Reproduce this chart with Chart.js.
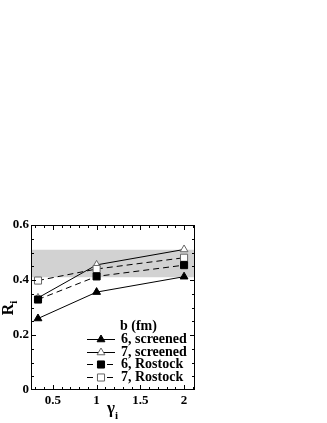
<!DOCTYPE html>
<html>
<head>
<meta charset="utf-8">
<script src="https://cdn.jsdelivr.net/npm/chart.js@4/dist/chart.umd.min.js"></script>
<style>
  html, body { margin: 0; padding: 0; background: #fff; }
</style>
</head>
<body>
<canvas id="ratioChart" width="327" height="423"></canvas>
<script>
// Values
var gammaValues   = [0.33, 1, 2];
var screened6     = [0.26, 0.356, 0.412];
var screened7     = [0.335, 0.455, 0.511];
var rostock6      = [0.329, 0.413, 0.454];
var rostock7      = [0.398, 0.44, 0.481];
var bandRange     = [0.41, 0.51];
var xRange        = [0.25, 2.125];
var yRange        = [0, 0.6];
var xTickValues   = [0.5, 1, 1.5, 2];
var yTickValues   = [0, 0.2, 0.4, 0.6];
var legendTitle   = "b (fm)";
var seriesLabels  = ["6, screened", "7, screened", "6, Rostock", "7, Rostock"];

var serif = "\"Liberation Serif\", \"Times New Roman\", serif";

function toPoints(values)
{
    return gammaValues.map(function (g, i) { return {x: g, y: values[i]}; });
}

function series(label, values, style, filled, dashed, order)
{
    return {
        label:                label,
        data:                 toPoints(values),
        borderColor:          "#000",
        borderWidth:          1,
        borderDash:           dashed ? [6, 4] : [],
        pointStyle:           style,
        pointRadius:          style === "triangle" ? 4.5 : 5,
        pointBorderWidth:     1,
        pointBorderColor:     filled ? "#000" : "#666",
        pointBackgroundColor: filled ? "#000" : "#fff",
        fill:                 false,
        tension:              0,
        order:                order
    };
}

var datasets = [
    series(seriesLabels[0], screened6, "triangle", true, false, 1),
    series(seriesLabels[1], screened7, "triangle", false, false, 4),
    series(seriesLabels[2], rostock6, "rect", true, true, 2),
    series(seriesLabels[3], rostock7, "rect", false, true, 3),
    {
        label: "bandTop",
        data: [{x: xRange[0], y: bandRange[1]}, {x: xRange[1], y: bandRange[1]}],
        borderWidth: 0, pointRadius: 0, fill: "+1",
        backgroundColor: "#d2d2d2", order: 10
    },
    {
        label: "bandBottom",
        data: [{x: xRange[0], y: bandRange[0]}, {x: xRange[1], y: bandRange[0]}],
        borderWidth: 0, pointRadius: 0, fill: false, order: 10
    }
];

// Frame with inward ticks on all four sides
var frameTicks = {
    id: "frameTicks",
    afterDraw: function (chart)
    {
        var ctx = chart.ctx, a = chart.chartArea;
        var xs = chart.scales.x, ys = chart.scales.y;
        ctx.save();
        ctx.strokeStyle = "#000";
        ctx.lineWidth = 1;
        ctx.strokeRect(Math.round(a.left) + 0.5, Math.round(a.top) + 0.5,
            Math.round(a.right - a.left) - 1, Math.round(a.bottom - a.top) - 1);
        ctx.beginPath();
        var v, px, len;
        for (var i = 3; i <= 21; i++)
        {
            v = i / 10;
            px = Math.round(xs.getPixelForValue(v)) + 0.5;
            len = (i % 5 === 0) ? 5 : 3;
            ctx.moveTo(px, a.bottom); ctx.lineTo(px, a.bottom - len);
            ctx.moveTo(px, a.top); ctx.lineTo(px, a.top + len);
        }
        for (var j = 1; j <= 11; j++)
        {
            v = j * 0.05;
            px = Math.round(ys.getPixelForValue(v)) + 0.5;
            len = (j % 4 === 0) ? 5 : 3;
            ctx.moveTo(a.left, px); ctx.lineTo(a.left + len, px);
            ctx.moveTo(a.right, px); ctx.lineTo(a.right - len, px);
        }
        ctx.stroke();

        // axis titles with subscripts
        ctx.fillStyle = "#000";
        ctx.textBaseline = "alphabetic";
        ctx.save();
        ctx.translate(13, (a.top + a.bottom) / 2);
        ctx.rotate(-Math.PI / 2);
        ctx.font = "bold 16px " + serif;
        ctx.textAlign = "left";
        var rw = ctx.measureText("R").width;
        ctx.fillText("R", -rw / 2 - 2, 0);
        ctx.font = "bold 11px " + serif;
        ctx.fillText("i", rw / 2 - 2, 4);
        ctx.restore();

        ctx.font = "bold 17px " + serif;
        var gw = ctx.measureText("\u03b3").width;
        var cx = (a.left + a.right) / 2;
        ctx.textAlign = "left";
        ctx.fillText("\u03b3", cx - gw / 2 - 2, 413);
        ctx.font = "bold 11px " + serif;
        ctx.fillText("i", cx + gw / 2 - 2, 419);
        ctx.restore();
    }
};

// Legend drawn inside the plot, line sample with marker in the middle
var innerLegend = {
    id: "innerLegend",
    afterDraw: function (chart)
    {
        var ctx = chart.ctx;
        ctx.save();
        ctx.fillStyle = "#000";
        ctx.font = "bold 14px " + serif;
        ctx.textBaseline = "middle";
        ctx.textAlign = "left";
        ctx.fillText(legendTitle, 120, 326);
        for (var i = 0; i < seriesLabels.length; i++)
        {
            var ds = chart.data.datasets[i];
            var y = Math.round(339 + i * 12.5) + 0.5;
            ctx.strokeStyle = "#000";
            ctx.lineWidth = 1;
            ctx.setLineDash(ds.borderDash);
            ctx.beginPath();
            ctx.moveTo(87, y);
            ctx.lineTo(115, y);
            ctx.stroke();
            ctx.setLineDash([]);
            ctx.fillStyle = ds.pointBackgroundColor;
            ctx.strokeStyle = ds.pointBorderColor;
            Chart.helpers.drawPoint(ctx, {
                pointStyle: ds.pointStyle,
                radius: ds.pointRadius,
                rotation: 0,
                borderWidth: 1
            }, 101, y);
            ctx.fillStyle = "#000";
            ctx.fillText(seriesLabels[i], 121, y);
        }
        ctx.restore();
    }
};

new Chart(document.getElementById("ratioChart"), {
    type: "line",
    data: {datasets: datasets},
    plugins: [frameTicks, innerLegend],
    options: {
        responsive: false,
        animation: false,
        devicePixelRatio: 1,
        layout: {padding: {top: 225, right: 132, bottom: 0, left: 0}},
        plugins: {
            legend: {display: false},
            tooltip: {enabled: false}
        },
        scales: {
            x: {
                type: "linear",
                min: xRange[0],
                max: xRange[1],
                grid: {display: false, drawTicks: false},
                border: {display: false},
                afterBuildTicks: function (scale)
                {
                    scale.ticks = xTickValues.map(function (v) { return {value: v}; });
                },
                afterFit: function (scale) { scale.height = 33; },
                ticks: {
                    padding: 3,
                    maxRotation: 0,
                    color: "#000",
                    font: {family: serif, size: 13, weight: "bold"},
                    callback: function (v) { return String(v); }
                }
            },
            y: {
                min: yRange[0],
                max: yRange[1],
                grid: {display: false, drawTicks: false},
                border: {display: false},
                afterBuildTicks: function (scale)
                {
                    scale.ticks = yTickValues.map(function (v) { return {value: v}; });
                },
                afterFit: function (scale) { scale.width = 31; },
                ticks: {
                    padding: 2,
                    color: "#000",
                    font: {family: serif, size: 13, weight: "bold"},
                    callback: function (v) { return String(v); }
                }
            }
        }
    }
});
</script>
</body>
</html>
